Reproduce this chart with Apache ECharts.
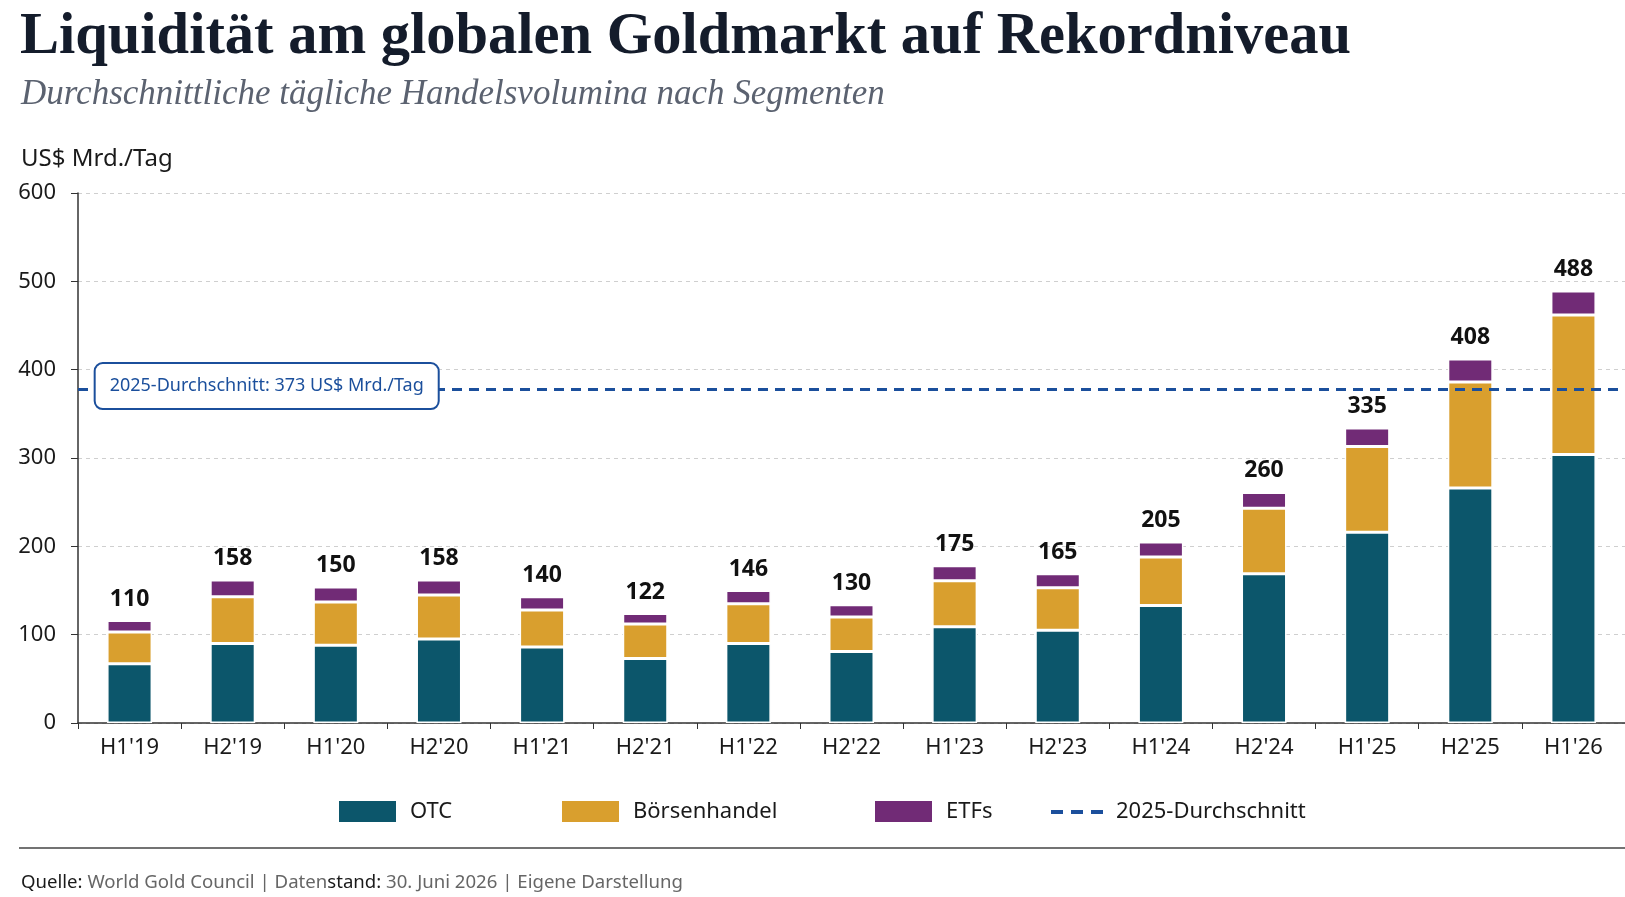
<!DOCTYPE html>
<html>
<head>
<meta charset="utf-8">
<script src="https://cdn.jsdelivr.net/npm/echarts@6/dist/echarts.min.js"></script>
<style>
  html, body { margin: 0; background: #fff; }
  #chart { width: 1625px; height: 897px; }
</style>
</head>
<body>
<div id="chart"></div>
<script>
const categories = ["H1'19", "H2'19", "H1'20", "H2'20", "H1'21", "H2'21", "H1'22", "H2'22", "H1'23", "H2'23", "H1'24", "H2'24", "H1'25", "H2'25", "H1'26"]
const otc = [67, 90, 88, 95, 86, 73, 90, 81, 109, 105, 133, 169, 216, 266, 304]
const boerse = [36, 53, 49, 50, 42, 39, 45, 39, 52, 48, 55, 74, 97, 120, 158]
const etfs = [13, 19, 17, 17, 15, 12, 15, 14, 17, 16, 17, 18, 21, 26, 27]
const totals = [110, 158, 150, 158, 140, 122, 146, 130, 175, 165, 205, 260, 335, 408, 488]
const avg2025 = 378
const avgText = '2025-Durchschnitt: 373 US$ Mrd./Tag'

const SANS = "'Noto Sans', sans-serif"
const SERIF = "'Liberation Serif', serif"
const BLUE = '#1b4f9c'

const chart = echarts.init(document.getElementById('chart'), null, { renderer: 'canvas' })

// one legend per item so the uneven spacing of the original can be kept
const legendText = { fontFamily: SANS, fontSize: 22, color: '#1a1a1a', padding: [0, 0, 0, 8] }
const legendItem = (name, left, top, icon, w) => ({
  left, top,
  itemWidth: w || 59, itemHeight: 23,
  textStyle: legendText,
  data: [{ name, icon }],
})

chart.setOption({
  backgroundColor: '#fff',
  animation: false,
  title: [
    {
      text: 'Liquidität am globalen Goldmarkt auf Rekordniveau',
      left: 15, top: 3,
      textStyle: { fontFamily: SERIF, fontSize: 58.5, fontWeight: 'bold', color: '#141c2b' },
    },
    {
      text: 'Durchschnittliche tägliche Handelsvolumina nach Segmenten',
      left: 16, top: 72,
      textStyle: { fontFamily: SERIF, fontSize: 35, fontStyle: 'italic', fontWeight: 'normal', color: '#5b6270' },
    },
    {
      text: 'US$ Mrd./Tag',
      left: 16, top: 142,
      textStyle: { fontFamily: SANS, fontSize: 24, fontWeight: 'normal', color: '#1a1a1a' },
    },
    {
      text: '{d|Quelle:} World Gold Council | Daten{d|stand:} 30. Juni 2026 | Eigene Darstellung',
      left: 16, top: 868,
      textStyle: {
        fontFamily: SANS, fontSize: 18.6, fontWeight: 'normal', color: '#666',
        rich: { d: { fontFamily: SANS, fontSize: 18.6, color: '#1a1a1a' } },
      },
    },
  ],
  graphic: [
    { type: 'line', shape: { x1: 19, y1: 848, x2: 1625, y2: 848 }, style: { stroke: '#444', lineWidth: 1.5 } },
  ],
  legend: [
    legendItem('OTC', 332, 794, 'rect'),
    legendItem('Börsenhandel', 555, 794, 'rect'),
    legendItem('ETFs', 868, 794, 'rect'),
    legendItem('2025-Durchschnitt', 1046, 796, 'path://M0,0h12v4h-12z M20,0h12v4h-12z M40,0h12v4h-12z', 52),
  ],
  grid: { left: 78, right: 0, top: 193, bottom: 174 },
  xAxis: {
    type: 'category',
    data: categories,
    axisLine: { lineStyle: { color: '#333', width: 1.5 } },
    axisTick: { show: true, length: 6, lineStyle: { color: '#333' } },
    axisLabel: { fontFamily: SANS, fontSize: 22, color: '#1a1a1a', margin: 14 },
  },
  yAxis: {
    type: 'value',
    min: 0, max: 600, interval: 100,
    axisLine: { show: true, lineStyle: { color: '#333', width: 1.5 } },
    axisTick: { show: true, length: 7, lineStyle: { color: '#333' } },
    axisLabel: { fontFamily: SANS, fontSize: 22, color: '#1a1a1a', margin: 22 },
    splitLine: { lineStyle: { color: '#cfcfcf', type: [4, 4] } },
  },
  series: [
    {
      name: 'OTC', type: 'bar', stack: 'v', data: otc, barWidth: 45,
      itemStyle: { color: '#0c566b', borderColor: '#fff', borderWidth: 1.5 },
    },
    {
      name: 'Börsenhandel', type: 'bar', stack: 'v', data: boerse, barWidth: 45,
      itemStyle: { color: '#d99f2e', borderColor: '#fff', borderWidth: 1.5 },
    },
    {
      name: 'ETFs', type: 'bar', stack: 'v', data: etfs, barWidth: 45,
      itemStyle: { color: '#712b76', borderColor: '#fff', borderWidth: 1.5 },
      label: {
        show: true, position: 'top', distance: 10,
        fontFamily: SANS, fontSize: 23, fontWeight: 'bold', color: '#111',
        formatter: (p) => String(totals[p.dataIndex]),
      },
    },
    {
      name: '2025-Durchschnitt', type: 'line', data: [],
      symbol: 'none',
      itemStyle: { color: BLUE },
      lineStyle: { color: BLUE, width: 3, type: [10, 7] },
      markLine: {
        silent: true, symbol: 'none',
        label: { show: false },
        lineStyle: { color: BLUE, width: 3, type: [10, 7] },
        data: [{ yAxis: avg2025 }],
      },
      markPoint: {
        silent: true,
        symbol: 'rect', symbolSize: 1,
        itemStyle: { color: 'rgba(0,0,0,0)' },
        data: [{ coord: [1, avg2025] }],
        label: {
          show: true, position: 'inside', offset: [34, -3],
          formatter: avgText,
          fontFamily: SANS, fontSize: 18, color: BLUE,
          backgroundColor: '#fff', borderColor: BLUE, borderWidth: 2, borderRadius: 7,
          padding: [13, 14],
        },
      },
    },
  ],
})
</script>
</body>
</html>
